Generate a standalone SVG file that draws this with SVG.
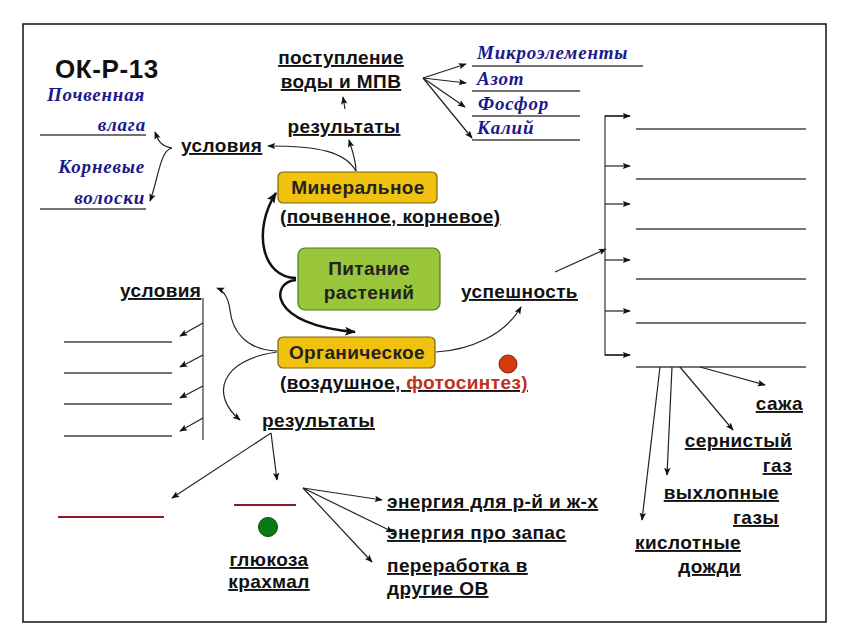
<svg xmlns="http://www.w3.org/2000/svg" width="841" height="633" viewBox="0 0 841 633">
<style>
.t{font-family:"Liberation Sans",Arial,sans-serif;font-weight:bold;font-size:19px;letter-spacing:0.4px;fill:#111;text-decoration:underline}
.i{font-family:"Liberation Serif","Times New Roman",serif;font-weight:bold;font-style:italic;font-size:19px;letter-spacing:0.8px;fill:#1a1a8a}
.bx{font-family:"Liberation Sans",Arial,sans-serif;font-weight:bold;font-size:19px;letter-spacing:0.4px;fill:#222}
.ln{stroke:#444;stroke-width:1.3;fill:none}
.rl{stroke:#8b1a2b;stroke-width:2;fill:none}
.a{stroke:#222;stroke-width:1.2;fill:none;marker-end:url(#ah)}
.ab{stroke:#111;stroke-width:2.5;fill:none;marker-end:url(#ahb)}
</style>
<defs>
<marker id="ah" viewBox="0 0 10 10" refX="9" refY="5" markerWidth="8" markerHeight="8" markerUnits="userSpaceOnUse" orient="auto"><path d="M0,1 L10,5 L0,9 L2,5 Z" fill="#111"/></marker>
<marker id="ahb" viewBox="0 0 10 10" refX="9" refY="5" markerWidth="11" markerHeight="11" markerUnits="userSpaceOnUse" orient="auto"><path d="M0,1 L10,5 L0,9 L2,5 Z" fill="#111"/></marker>
</defs>
<rect x="0" y="0" width="841" height="633" fill="#fff"/>
<rect x="23" y="24" width="803" height="598" fill="#fff" stroke="#111" stroke-width="1.5"/>

<text x="55" y="78" font-family="Liberation Sans,Arial,sans-serif" font-weight="bold" font-size="26" letter-spacing="0.6" fill="#111">ОК-Р-13</text>

<g id="soil-water">
<text class="i" x="47" y="101">Почвенная</text>
<text class="i" x="146" y="131" text-anchor="end">влага</text>
<line class="ln" x1="40" y1="135" x2="146" y2="135"/>
</g>
<g id="root-hairs">
<text class="i" x="145" y="173" text-anchor="end">Корневые</text>
<text class="i" x="145" y="204" text-anchor="end">волоски</text>
<line class="ln" x1="40" y1="209" x2="146" y2="209"/>
</g>
<g id="cond-top"><text class="t" x="181" y="152">условия</text></g>
<g id="intake"><text class="t" x="341" y="64" text-anchor="middle">поступление</text><text class="t" x="341" y="88" text-anchor="middle">воды и МПВ</text></g>
<g id="res-top"><text class="t" x="344" y="133" text-anchor="middle">результаты</text></g>

<g id="micro"><text class="i" x="477" y="59">Микроэлементы</text><line class="ln" x1="472" y1="66" x2="643" y2="66"/></g>
<g id="nitrogen"><text class="i" x="477" y="85">Азот</text><line class="ln" x1="472" y1="91" x2="580" y2="91"/></g>
<g id="phosphorus"><text class="i" x="478" y="110">Фосфор</text><line class="ln" x1="472" y1="116" x2="580" y2="116"/></g>
<g id="potassium"><text class="i" x="477" y="134">Калий</text><line class="ln" x1="472" y1="140" x2="580" y2="140"/></g>

<g id="mineral">
<rect x="278" y="172" width="159" height="31" rx="5" fill="#f0c10e" stroke="#7a6410" stroke-width="1.2"/>
<text class="bx" x="358" y="194" text-anchor="middle">Минеральное</text>
<text class="t" x="280" y="223">(почвенное, корневое)</text>
</g>
<g id="nutrition">
<rect x="298" y="248" width="142" height="62" rx="7" fill="#99c63a" stroke="#557a1a" stroke-width="1.2"/>
<text class="bx" x="369" y="275" text-anchor="middle">Питание</text>
<text class="bx" x="369" y="299" text-anchor="middle">растений</text>
</g>
<g id="organic">
<rect x="278" y="337" width="157" height="31" rx="5" fill="#f0c10e" stroke="#7a6410" stroke-width="1.2"/>
<text class="bx" x="357" y="359" text-anchor="middle">Органическое</text>
<text class="t" x="280" y="389">(воздушное, <tspan fill="#c0301a">фотосинтез)</tspan></text>
<circle cx="508" cy="364" r="9" fill="#d23a10" stroke="#7a2008" stroke-width="1"/>
</g>
<g id="success"><text class="t" x="461" y="298">успешность</text></g>

<g id="cond-left">
<text class="t" x="120" y="297">условия</text>
<line class="ln" x1="64" y1="342" x2="172" y2="342"/>
<line class="ln" x1="64" y1="373" x2="172" y2="373"/>
<line class="ln" x1="64" y1="404" x2="172" y2="404"/>
<line class="ln" x1="64" y1="436" x2="172" y2="436"/>
</g>
<g id="res-bottom"><text class="t" x="262" y="427">результаты</text></g>
<g id="res-blank"><line class="rl" x1="58" y1="517" x2="164" y2="517"/></g>
<g id="glucose">
<line class="rl" x1="234" y1="505" x2="296" y2="505"/>
<circle cx="268" cy="527" r="9.5" fill="#0a7a14" stroke="#064a0a" stroke-width="1"/>
<text class="t" x="269" y="566" text-anchor="middle">глюкоза</text>
<text class="t" x="269" y="588" text-anchor="middle">крахмал</text>
</g>
<g id="energy1"><text class="t" x="387" y="508">энергия для р-й и ж-х</text></g>
<g id="energy2"><text class="t" x="387" y="539">энергия про запас</text></g>
<g id="processing"><text class="t" x="387" y="572">переработка в</text><text class="t" x="387" y="595">другие ОВ</text></g>

<g id="right-blanks">
<line class="ln" x1="636" y1="129" x2="806" y2="129"/>
<line class="ln" x1="636" y1="179" x2="806" y2="179"/>
<line class="ln" x1="636" y1="229" x2="806" y2="229"/>
<line class="ln" x1="636" y1="279" x2="806" y2="279"/>
<line class="ln" x1="636" y1="323" x2="806" y2="323"/>
<line class="ln" x1="636" y1="367" x2="806" y2="367"/>
</g>
<g id="soot"><text class="t" x="803" y="410" text-anchor="end">сажа</text></g>
<g id="sulfur"><text class="t" x="792" y="447" text-anchor="end">сернистый</text><text class="t" x="792" y="472" text-anchor="end">газ</text></g>
<g id="exhaust"><text class="t" x="779" y="499" text-anchor="end">выхлопные</text><text class="t" x="779" y="524" text-anchor="end">газы</text></g>
<g id="acid"><text class="t" x="741" y="549" text-anchor="end">кислотные</text><text class="t" x="741" y="573" text-anchor="end">дожди</text></g>

<g id="connectors">
<path class="a" d="M172,148 C160,146 158,140 155,132"/>
<path class="a" d="M172,148 C160,150 158,180 150,201"/>
<path class="a" d="M356,171 C356,160 352,150 349,140"/>
<path class="a" d="M356,171 C345,152 320,146 268,146"/>
<path class="a" d="M345,109 L343,97"/>
<path class="a" d="M423,78 L466,64"/>
<path class="a" d="M423,78 L466,83"/>
<path class="a" d="M423,78 L465,107"/>
<path class="a" d="M423,78 L472,138"/>
<path class="ab" d="M296,278 C262,278 252,230 276,193"/>
<path class="ab" d="M296,280 C270,282 268,325 355,332"/>
<path class="a" d="M436,352 C470,350 505,335 521,307"/>
<path class="a" d="M555,272 L606,249"/>
<polyline class="ln" points="630,116 605,116 605,355 630,355"/>
<path class="a" d="M605,116 L630,116"/>
<path class="a" d="M605,166 L630,166"/>
<path class="a" d="M605,204 L630,204"/>
<path class="a" d="M605,260 L630,260"/>
<path class="a" d="M605,311 L630,311"/>
<path class="a" d="M605,355 L630,355"/>
<path class="a" d="M700,367 L765,385"/>
<path class="a" d="M680,367 L733,430"/>
<path class="a" d="M672,367 L667,475"/>
<path class="a" d="M660,367 L642,520"/>
<path class="a" d="M277,351 C245,350 232,330 230,310 C228,295 222,290 217,288"/>
<path class="a" d="M277,352 C220,360 210,395 240,420"/>
<line class="ln" x1="203" y1="298" x2="203" y2="440"/>
<path class="a" d="M203,323 L180,336"/>
<path class="a" d="M203,355 L180,367"/>
<path class="a" d="M203,386 L180,398"/>
<path class="a" d="M203,418 L180,431"/>
<path class="a" d="M271,433 L172,498"/>
<path class="a" d="M271,433 L277,480"/>
<path class="a" d="M303,488 L382,500"/>
<path class="a" d="M303,488 L393,532"/>
<path class="a" d="M303,488 L372,562"/>
</g>
</svg>
